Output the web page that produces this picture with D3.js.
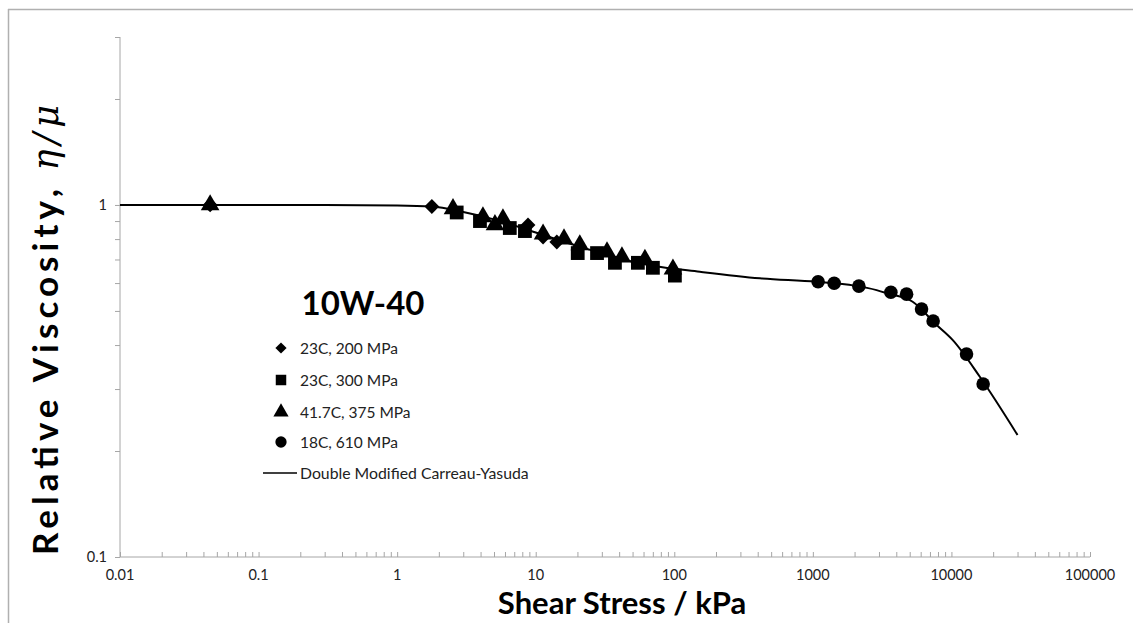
<!DOCTYPE html>
<html><head><meta charset="utf-8">
<script src="https://cdn.jsdelivr.net/npm/d3@7"></script>
<style>body{margin:0;background:#fff}svg{display:block}text{font-family:Lato,"Open Sans",sans-serif}</style>
</head><body>
<svg id="c" width="1133" height="623"></svg>
<script>
// ---- data ----
const xTickValues = [0.01, 0.1, 1, 10, 100, 1000, 10000, 100000];
const xTickLabels = ["0.01","0.1","1","10","100","1000","10000","100000"];
const yTickValues = [0.1, 1];
const yTickLabels = ["0.1","1"];
const seriesNames = ["23C, 200 MPa","23C, 300 MPa","41.7C, 375 MPa","18C, 610 MPa"];
const curveName = "Double Modified Carreau-Yasuda";
const titleText = "10W-40";

const diamonds = [[0.0447,1.0],[1.78,0.99],[8.8,0.877],[11.3,0.811],[14.2,0.785]];
const squares = [[2.69,0.952],[3.96,0.9],[6.5,0.86],[8.36,0.843],[20.1,0.73],[27.7,0.73],[37.3,0.685],[54.6,0.685],[70.1,0.663],[101,0.63]];
const triangles = [[0.0447,1.0],[2.53,0.975],[4.16,0.925],[5.08,0.878],[5.8,0.912],[11.3,0.826],[16.0,0.8],[20.8,0.77],[32.7,0.735],[41.9,0.711],[61.4,0.7],[97.8,0.657]];
const circles = [[1091,0.605],[1425,0.599],[2148,0.588],[3656,0.565],[4746,0.558],[6086,0.506],[7379,0.468],[12850,0.377],[16940,0.31]];
const curve = [[0.01,1.0],[0.3,1.0],[1,0.997],[1.78,0.99],[3,0.955],[5,0.91],[10,0.835],[20,0.765],[40,0.705],[70,0.672],[153,0.646],[415,0.619],[1060,0.605],[2000,0.59],[2884,0.573],[3500,0.56],[5250,0.531],[7820,0.456],[10230,0.413],[16030,0.325],[30000,0.222]];

// ---- layout ----
const svg = d3.select("#c");
const L = 120, R = 1090, T = 37, B = 557;
const x = d3.scaleLog().domain([0.01, 100000]).range([L, R]);
const y = d3.scaleLog().domain([0.1, 3]).range([B, T]);
const axisCol = "#a6a6a6";

// frame lines (top & left)
svg.append("line").attr("x1",8).attr("x2",1133).attr("y1",9.5).attr("y2",9.5).attr("stroke","#b0b0b0").attr("stroke-width",1.5);
svg.append("line").attr("x1",8.5).attr("x2",8.5).attr("y1",9).attr("y2",623).attr("stroke","#b0b0b0").attr("stroke-width",1.5);

// x minor + major ticks (inside / upward)
const xAllTicks = [];
for (let e = -2; e < 5; e++) for (let m = 1; m <= 9; m++) xAllTicks.push(m * Math.pow(10, e));
xAllTicks.push(100000);
const xAxis = d3.axisBottom(x).tickValues(xAllTicks).tickSize(-5).tickFormat("");
const gx = svg.append("g").attr("transform",`translate(0,${B})`).call(xAxis);
gx.select(".domain").attr("stroke",axisCol).attr("d",`M${L},0H${R}`);
gx.selectAll(".tick line").attr("stroke",axisCol);
xTickValues.forEach((v,i)=>{
  svg.append("text").attr("x",x(v)).attr("y",B+23).attr("text-anchor","middle")
    .attr("font-size",14.5).attr("fill","#222").text(xTickLabels[i]);
});

// y ticks (outside / left)
const yAllTicks = [];
for (let m = 1; m <= 9; m++) yAllTicks.push(m * 0.1);
yAllTicks.push(1,2,3);
const yAxis = d3.axisLeft(y).tickValues(yAllTicks).tickSize(5).tickFormat("");
const gy = svg.append("g").attr("transform",`translate(${L},0)`).call(yAxis);
gy.select(".domain").attr("stroke",axisCol).attr("d",`M0,${T}V${B}`);
gy.selectAll(".tick line").attr("stroke",axisCol);
yTickValues.forEach((v,i)=>{
  svg.append("text").attr("x",L-13).attr("y",y(v)+5).attr("text-anchor","end")
    .attr("font-size",14.5).attr("fill","#222").text(yTickLabels[i]);
});

// axis titles
const yt = svg.append("text").attr("transform",`translate(58,${330}) rotate(-90)`)
  .attr("text-anchor","middle").attr("font-size",35).attr("font-weight","bold").attr("fill","#000")
  .attr("textLength",450).attr("lengthAdjust","spacing");
yt.append("tspan").text("Relative Viscosity, ");
yt.append("tspan").attr("font-style","italic").attr("font-weight","normal").attr("font-family","DejaVu Serif, serif").text("η/μ");
svg.append("text").attr("x",622).attr("y",614).attr("text-anchor","middle")
  .attr("font-size",31).attr("font-weight","bold").attr("fill","#000").text("Shear Stress / kPa");

// model curve
const line = d3.line().x(d=>x(d[0])).y(d=>y(d[1])).curve(d3.curveMonotoneX);
svg.append("path").datum(curve).attr("d",line).attr("fill","none").attr("stroke","#000").attr("stroke-width",2);

// markers
const sym = {
  diamond: d3.symbol().type(d3.symbolDiamond2).size(140),
  square: d3.symbol().type(d3.symbolSquare).size(190),
  triangle: d3.symbol().type(d3.symbolTriangle).size(150),
  circle: d3.symbol().type(d3.symbolCircle).size(145)
};
function drawPts(data, s){
  svg.append("g").selectAll("path").data(data).join("path")
    .attr("transform",d=>`translate(${x(d[0])},${y(d[1])})`)
    .attr("d",s).attr("fill","#000");
}
drawPts(circles, sym.circle);
drawPts(squares, sym.square);
drawPts(triangles, sym.triangle);
drawPts(diamonds, sym.diamond);

// title + legend
svg.append("text").attr("x",363).attr("y",315).attr("text-anchor","middle")
  .attr("font-size",33).attr("font-weight","bold").attr("fill","#000").text(titleText);
const legY = [348, 380, 412, 442];
seriesNames.forEach((n,i)=>{
  svg.append("path").attr("transform",`translate(281,${legY[i]})`)
    .attr("d", d3.symbol().type([d3.symbolDiamond2,d3.symbolSquare,d3.symbolTriangle,d3.symbolCircle][i]).size([80,110,100,100][i])).attr("fill","#000");
  svg.append("text").attr("x",300).attr("y",legY[i]+5.5).attr("font-size",15.5).attr("fill","#222").text(n);
});
svg.append("line").attr("x1",263).attr("x2",297).attr("y1",473).attr("y2",473).attr("stroke","#000").attr("stroke-width",1.5);
svg.append("text").attr("x",300).attr("y",478.5).attr("font-size",15.8).attr("fill","#222").text(curveName);
</script>
</body></html>
